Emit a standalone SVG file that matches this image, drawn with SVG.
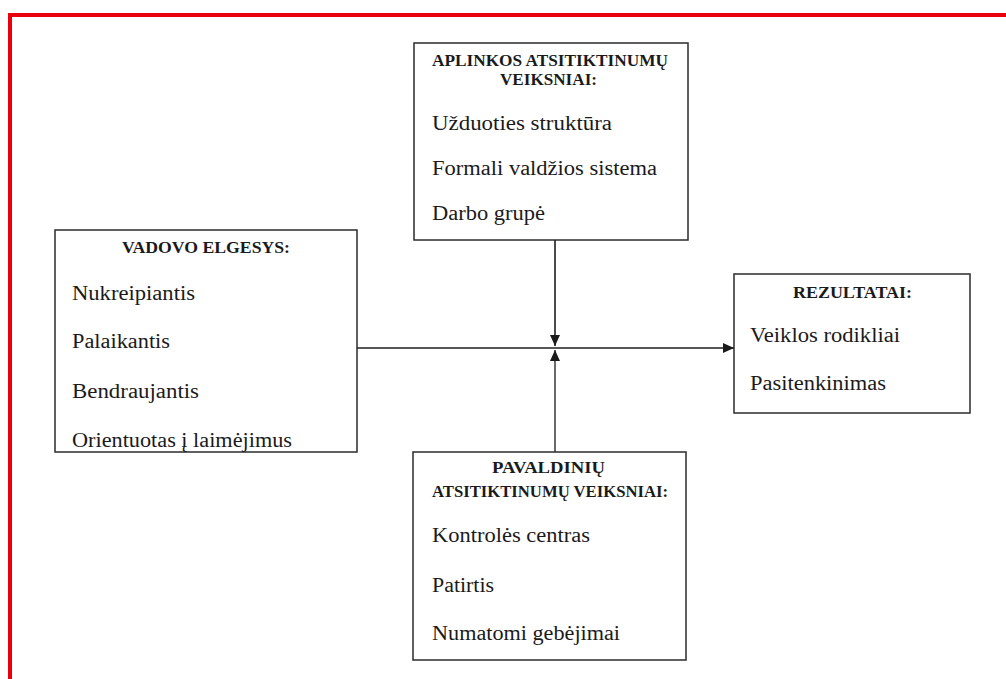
<svg xmlns="http://www.w3.org/2000/svg" width="1006" height="679" viewBox="0 0 1006 679">
  <style>
    .box { fill: #ffffff; stroke: #2b2b2b; stroke-width: 1.5; }
    .ttl { font-family: "Liberation Serif", "Times New Roman", serif; font-size: 16px; font-weight: bold; fill: #1a1a1a; }
    .itm { font-family: "Liberation Serif", "Times New Roman", serif; font-size: 20px; fill: #1a1a1a; }
    .ln { stroke: #1e1e1e; stroke-width: 1.6; fill: none; }
    .ln-up { stroke: #5a5a5a; stroke-width: 1.8; fill: none; }
  </style>
  <defs>
    <marker id="arrow" viewBox="0 0 11 10" refX="11" refY="5" markerWidth="11" markerHeight="10" markerUnits="userSpaceOnUse" orient="auto">
      <path d="M0,0 L11,5 L0,10 Z" fill="#1a1a1a"/>
    </marker>
  </defs>

  <rect x="0" y="0" width="1006" height="679" fill="#ffffff"/>
  <!-- red frame -->
  <rect x="10" y="15" width="1200" height="900" fill="none" stroke="#e8000b" stroke-width="4"/>

  <!-- connectors -->
  <g id="connectors">
    <line class="ln" x1="357" y1="348" x2="734" y2="348" marker-end="url(#arrow)"/>
    <line class="ln" x1="555" y1="240" x2="555" y2="346" marker-end="url(#arrow)"/>
    <line class="ln-up" x1="555" y1="452" x2="555" y2="350" marker-end="url(#arrow)"/>
  </g>

  <!-- environment factors -->
  <g id="aplinkos">
    <rect class="box" x="414" y="43" width="274" height="197"/>
    <text class="ttl" x="432" y="66" textLength="236" lengthAdjust="spacingAndGlyphs">APLINKOS ATSITIKTINUMŲ</text>
    <text class="ttl" x="500" y="85" textLength="97" lengthAdjust="spacingAndGlyphs">VEIKSNIAI:</text>
    <text class="itm" x="432" y="130" textLength="180" lengthAdjust="spacingAndGlyphs">Užduoties struktūra</text>
    <text class="itm" x="432" y="175" textLength="225" lengthAdjust="spacingAndGlyphs">Formali valdžios sistema</text>
    <text class="itm" x="432" y="220" textLength="113" lengthAdjust="spacingAndGlyphs">Darbo grupė</text>
  </g>

  <!-- leader behaviour -->
  <g id="vadovo">
    <rect class="box" x="55" y="230" width="302" height="222"/>
    <text class="ttl" x="122" y="253" textLength="168" lengthAdjust="spacingAndGlyphs">VADOVO ELGESYS:</text>
    <text class="itm" x="72" y="300" textLength="123" lengthAdjust="spacingAndGlyphs">Nukreipiantis</text>
    <text class="itm" x="72" y="348" textLength="98" lengthAdjust="spacingAndGlyphs">Palaikantis</text>
    <text class="itm" x="72" y="398" textLength="127" lengthAdjust="spacingAndGlyphs">Bendraujantis</text>
    <text class="itm" x="72" y="447" textLength="220" lengthAdjust="spacingAndGlyphs">Orientuotas į laimėjimus</text>
  </g>

  <!-- results -->
  <g id="rezultatai">
    <rect class="box" x="734" y="274" width="236" height="139"/>
    <text class="ttl" x="793" y="298" textLength="119" lengthAdjust="spacingAndGlyphs">REZULTATAI:</text>
    <text class="itm" x="750" y="342" textLength="150" lengthAdjust="spacingAndGlyphs">Veiklos rodikliai</text>
    <text class="itm" x="750" y="390" textLength="136" lengthAdjust="spacingAndGlyphs">Pasitenkinimas</text>
  </g>

  <!-- subordinate factors -->
  <g id="pavaldiniu">
    <rect class="box" x="413" y="452" width="273" height="208"/>
    <text class="ttl" x="492" y="473" textLength="113" lengthAdjust="spacingAndGlyphs">PAVALDINIŲ</text>
    <text class="ttl" x="432" y="497" textLength="236" lengthAdjust="spacingAndGlyphs">ATSITIKTINUMŲ VEIKSNIAI:</text>
    <text class="itm" x="432" y="542" textLength="158" lengthAdjust="spacingAndGlyphs">Kontrolės centras</text>
    <text class="itm" x="432" y="592" textLength="62" lengthAdjust="spacingAndGlyphs">Patirtis</text>
    <text class="itm" x="432" y="640" textLength="188" lengthAdjust="spacingAndGlyphs">Numatomi gebėjimai</text>
  </g>
</svg>
